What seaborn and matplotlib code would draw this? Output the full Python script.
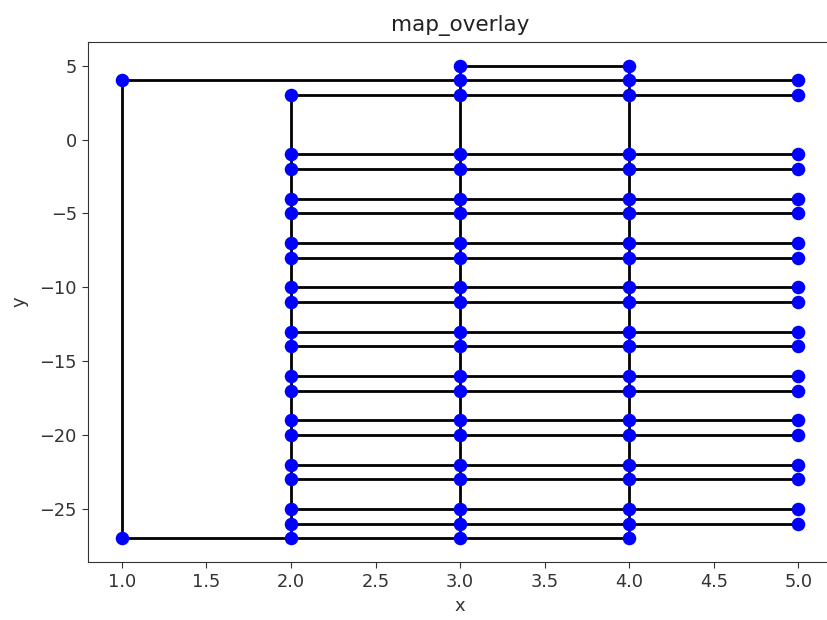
import matplotlib
matplotlib.use("Agg")
import matplotlib.pyplot as plt
import seaborn as sns
import pandas as pd

# ---- data ----
row_levels = [-1, -2, -4, -5, -7, -8, -10, -11, -13, -14,
              -16, -17, -19, -20, -22, -23, -25, -26]
col1_y = [4, -27]
col2_y = [3] + row_levels + [-27]
col3_y = [5, 4, 3] + row_levels + [-27]
col4_y = [5, 4, 3] + row_levels + [-27]
col5_y = [4, 3] + row_levels
columns = {1: col1_y, 2: col2_y, 3: col3_y, 4: col4_y, 5: col5_y}

# horizontal segments: (y, x_start, x_end)
h_segments = [(5, 3, 4), (4, 1, 5), (3, 2, 5), (-27, 1, 4)] + [(r, 2, 5) for r in row_levels]
# vertical segments: (x, y_start, y_end)
v_segments = [(1, 4, -27), (2, 3, -27), (3, 5, -27), (4, 5, -27)]

# ---- build tables ----
pts = pd.DataFrame([(x, y) for x, ys in columns.items() for y in ys], columns=["x", "y"])
rows = []
sid = 0
for y, x0, x1 in h_segments:
    rows += [(sid, x0, y), (sid, x1, y)]
    sid += 1
for x, y0, y1 in v_segments:
    rows += [(sid, x, y0), (sid, x, y1)]
    sid += 1
segs = pd.DataFrame(rows, columns=["seg", "x", "y"])

# ---- plot ----
fig = plt.figure(figsize=(8.27, 6.2), dpi=100)
ax = fig.add_axes([0.1064, 0.0935, 0.9, 0.8387])

sns.lineplot(data=segs, x="x", y="y", units="seg", estimator=None, sort=False,
             color="black", linewidth=2, ax=ax, zorder=1, legend=False)
sns.scatterplot(data=pts, x="x", y="y", color="blue", s=95, linewidth=0,
                ax=ax, zorder=2, legend=False)

ax.set_xlim(0.8, 5.2)
ax.set_ylim(-28.6, 6.6)
ax.set_xticks([1.0, 1.5, 2.0, 2.5, 3.0, 3.5, 4.0, 4.5, 5.0])
ax.set_yticks([5, 0, -5, -10, -15, -20, -25])
ax.tick_params(labelsize=12.8, length=4.5, color="#333333", labelcolor="#333333")
for s in ax.spines.values():
    s.set_color("#333333")
ax.set_title("map_overlay", fontsize=15.5, color="#222222", pad=8)
ax.set_xlabel("x", fontsize=13, color="#333333")
ax.set_ylabel("y", fontsize=13, color="#333333", labelpad=8)

fig.savefig("out.png", dpi=100)
